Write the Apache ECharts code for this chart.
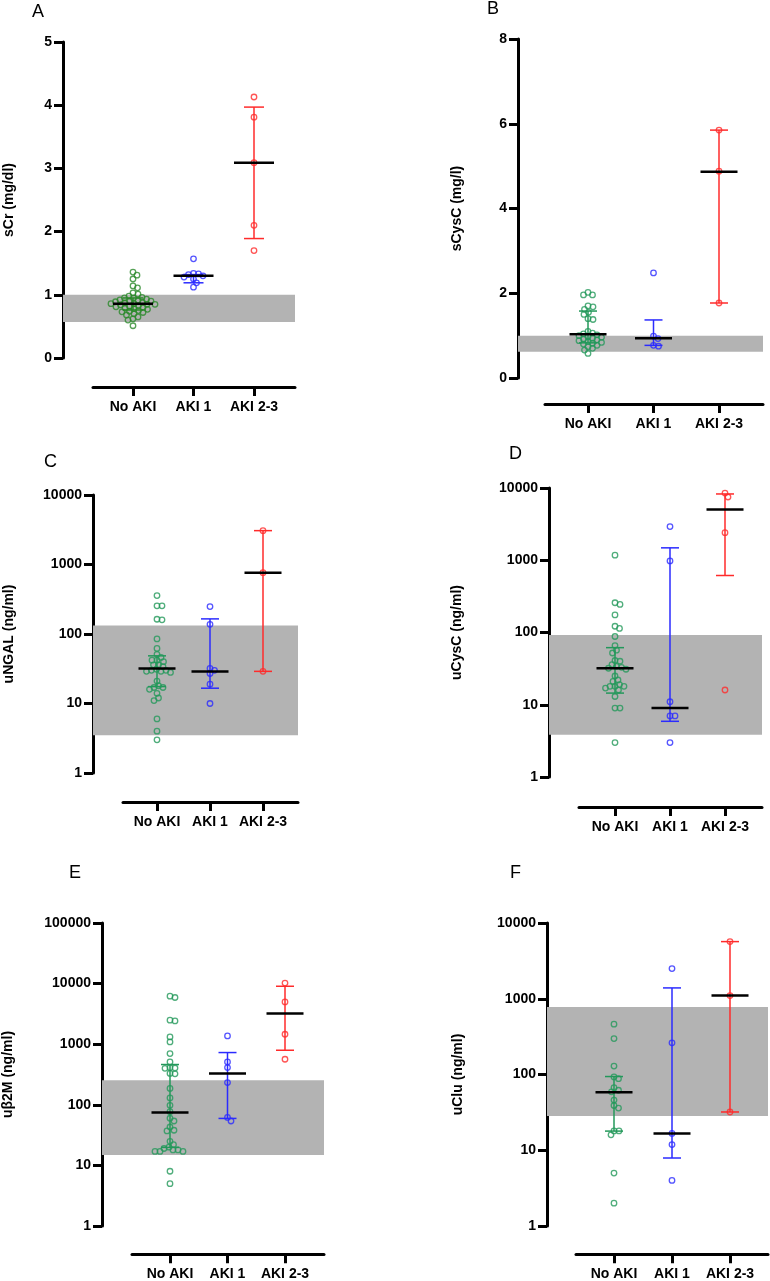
<!DOCTYPE html>
<html>
<head>
<meta charset="utf-8">
<title>AKI biomarkers</title>
<script src="https://cdn.jsdelivr.net/npm/echarts@6/dist/echarts.min.js"></script>
<style>
  body { margin: 0; background: #fff; }
  #main { width: 770px; height: 1281px; }
</style>
</head>
<body>
<div id="main"></div>
<script>
// ---- data ----
var categories = ['No AKI', 'AKI 1', 'AKI 2-3'];
var panelLetters = ['A', 'B', 'C', 'D', 'E', 'F'];
var axisTitles = ['sCr (mg/dl)', 'sCysC (mg/l)', 'uNGAL (ng/ml)', 'uCysC (ng/ml)', 'u\u03b22M (ng/ml)', 'uClu (ng/ml)'];

// A  sCr
var sCrNoAki = [1.36, 1.31, 1.25, 1.14, 1.11, 1.03, 1.01, 0.98, 0.96, 0.95, 0.95, 0.93, 0.92, 0.91, 0.90, 0.90, 0.89, 0.88, 0.87, 0.86, 0.86, 0.85, 0.85, 0.84, 0.83, 0.82, 0.81, 0.80, 0.79, 0.78, 0.77, 0.75, 0.74, 0.73, 0.72, 0.70, 0.68, 0.65, 0.62, 0.60, 0.51];
var sCrAki1 = [1.57, 1.34, 1.33, 1.32, 1.30, 1.28, 1.25, 1.19, 1.12];
var sCrAki23 = [4.13, 3.81, 3.09, 2.10, 1.70];
var sCrMedian = [0.86, 1.30, 3.09];
var sCrLow = [0.76, 1.19, 1.89];
var sCrHigh = [0.95, 1.32, 3.97];
var sCrRef = [0.57, 1.0];

// B  sCysC
var sCysNoAki = [2.02, 1.96, 1.96, 1.70, 1.68, 1.62, 1.55, 1.50, 1.40, 1.38, 1.10, 1.06, 1.04, 1.02, 1.00, 0.98, 0.96, 0.94, 0.92, 0.90, 0.88, 0.86, 0.84, 0.82, 0.80, 0.77, 0.74, 0.70, 0.66, 0.58];
var sCysAki1 = [2.48, 0.99, 0.93, 0.77, 0.75];
var sCysAki23 = [5.85, 4.88, 1.77];
var sCysMedian = [1.03, 0.94, 4.87];
var sCysLow = [0.83, 0.77, 1.77];
var sCysHigh = [1.58, 1.37, 5.85];
var sCysRef = [0.62, 1.0];

// C  uNGAL
var uNgalNoAki = [357, 254, 254, 163, 160, 85, 62, 51, 46, 42, 42, 40, 36, 36, 34, 31, 30, 30, 29, 29, 28, 21, 18, 17, 17, 16, 14, 12, 11, 6, 4, 3];
var uNgalAki1 = [248, 138, 32, 30, 27, 19, 10];
var uNgalAki23 = [3070, 764, 29];
var uNgalMedian = [31.9, 28.9, 764];
var uNgalLow = [17.5, 16.6, 29];
var uNgalHigh = [48.5, 165, 3070];
var uNgalRef = [3.5, 132];

// D  uCysC
var uCysNoAki = [1175, 258, 245, 175, 122, 114, 88, 66, 57, 52, 41, 40, 36, 34, 33, 32, 31, 25, 22, 21, 19, 18, 18, 18, 17, 16, 13, 9, 9, 3];
var uCysAki1 = [2925, 980, 11, 7, 7, 3];
var uCysAki23 = [8520, 7510, 2410, 16];
var uCysMedian = [32, 9, 5030];
var uCysLow = [14.5, 5.9, 615];
var uCysHigh = [61.7, 1485, 8270];
var uCysRef = [3.84, 92];

// E  ub2M
var uB2mNoAki = [6200, 5900, 2490, 2420, 1320, 1090, 700, 510, 410, 405, 400, 330, 325, 186, 130, 98, 77, 60, 54, 43, 38, 37, 25, 22, 20, 19, 18, 18, 17, 17, 17, 8, 5];
var uB2mAki1 = [1372, 510, 412, 233, 62, 54];
var uB2mAki23 = [10200, 4980, 1460, 565];
var uB2mMedian = [74.8, 328, 3200];
var uB2mLow = [19.8, 59.6, 795];
var uB2mHigh = [462, 728, 9040];
var uB2mRef = [14.8, 255];

// F  uClu
var uCluNoAki = [461, 298, 129, 93, 88, 67, 62, 59, 46, 39, 36, 18, 18, 16, 5, 2];
var uCluAki1 = [2500, 262, 16.7, 11.9, 4];
var uCluAki23 = [5680, 1100, 32];
var uCluMedian = [58.5, 16.7, 1100];
var uCluLow = [17.9, 7.9, 32];
var uCluHigh = [94, 1390, 5680];
var uCluRef = [28.3, 780];

// y axis ranges
var yMins = [0, 0, 1, 1, 1, 1];
var yMaxs = [5, 8, 10000, 10000, 100000, 10000];
var yIntervals = [1, 2, null, null, null, null];

// ---- layout ----
var panels = [
  { groups: [sCrNoAki, sCrAki1, sCrAki23], med: sCrMedian, lo: sCrLow, hi: sCrHigh, ref: sCrRef,
    left: 63, top: 42, bottom: 358, right: 295, xLineLeft: 93, xAxisY: 387, cat0: 133, gap: 60.5, log: false,
    green: '#2b892b', titleX: 9, letter: [32, 3] },
  { groups: [sCysNoAki, sCysAki1, sCysAki23], med: sCysMedian, lo: sCysLow, hi: sCysHigh, ref: sCysRef,
    left: 518, top: 39, bottom: 378, right: 763, xLineLeft: 545, xAxisY: 404, cat0: 588, gap: 65.5, log: false,
    green: '#23985a', titleX: 457, letter: [487, 0] },
  { groups: [uNgalNoAki, uNgalAki1, uNgalAki23], med: uNgalMedian, lo: uNgalLow, hi: uNgalHigh, ref: uNgalRef,
    left: 93, top: 495, bottom: 773, right: 298, xLineLeft: 123, xAxisY: 802, cat0: 157, gap: 53, log: true,
    green: '#23985a', titleX: 9, letter: [44, 453] },
  { groups: [uCysNoAki, uCysAki1, uCysAki23], med: uCysMedian, lo: uCysLow, hi: uCysHigh, ref: uCysRef,
    left: 549, top: 488, bottom: 777, right: 762, xLineLeft: 579, xAxisY: 807, cat0: 615, gap: 55, log: true,
    green: '#23985a', titleX: 457, letter: [509, 445] },
  { groups: [uB2mNoAki, uB2mAki1, uB2mAki23], med: uB2mMedian, lo: uB2mLow, hi: uB2mHigh, ref: uB2mRef,
    left: 102, top: 923, bottom: 1226, right: 324, xLineLeft: 132, xAxisY: 1255, cat0: 170, gap: 57.5, log: true,
    green: '#23985a', titleX: 8, letter: [69, 864] },
  { groups: [uCluNoAki, uCluAki1, uCluAki23], med: uCluMedian, lo: uCluLow, hi: uCluHigh, ref: uCluRef,
    left: 547, top: 923, bottom: 1226, right: 768, xLineLeft: 576, xAxisY: 1255, cat0: 614, gap: 58, log: true,
    green: '#23985a', titleX: 458, letter: [510, 864] }
];
var BLUE = '#2b2bff', RED = '#ff2b2b';
var FONT = 'Liberation Sans, Arial, sans-serif';

var chart = echarts.init(document.getElementById('main'));

var grids = [], xAxes = [], yAxes = [], series = [], titles = [];

panels.forEach(function (p, i) {
  var colors = [p.green, BLUE, RED];
  var dataGrid = 2 * i, axisGrid = 2 * i + 1;
  grids.push({ left: p.left, top: p.top, width: p.right - p.left, height: p.bottom - p.top });
  grids.push({ left: p.xLineLeft, top: p.xAxisY - 1, width: p.right - p.xLineLeft, height: 1 });

  xAxes.push({ gridIndex: dataGrid, type: 'value', show: false,
    min: (p.left - p.cat0) / p.gap, max: (p.right - p.cat0) / p.gap });
  xAxes.push({ gridIndex: axisGrid, type: 'value',
    min: (p.xLineLeft - p.cat0) / p.gap, max: (p.right - p.cat0) / p.gap,
    axisLine: { show: true, onZero: false, lineStyle: { color: '#000', width: 3 } },
    axisTick: { show: true, length: 9, customValues: [0, 1, 2], lineStyle: { color: '#000', width: 3 } },
    axisLabel: { show: true, customValues: [0, 1, 2], margin: 13, color: '#000', fontFamily: FONT,
      fontSize: 14, fontWeight: 'bold', formatter: function (v) { return categories[Math.round(v)]; } },
    splitLine: { show: false } });

  var nameGap = p.left - p.titleX - 7;
  var ya = { gridIndex: dataGrid, type: p.log ? 'log' : 'value', min: yMins[i], max: yMaxs[i],
    axisLine: { show: true, onZero: false, lineStyle: { color: '#000', width: 3 } },
    axisTick: { show: true, length: 9, lineStyle: { color: '#000', width: 3 } },
    axisLabel: { color: '#000', fontFamily: FONT, fontSize: 14, fontWeight: 'bold', margin: 11,
      formatter: function (v) { return String(Math.round(v * 100) / 100); } },
    splitLine: { show: false },
    name: axisTitles[i], nameLocation: 'middle', nameGap: nameGap,
    nameTextStyle: { color: '#000', fontFamily: FONT, fontSize: 14, fontWeight: 'bold' } };
  if (p.log) ya.logBase = 10;
  if (yIntervals[i]) ya.interval = yIntervals[i];
  yAxes.push(ya);
  yAxes.push({ gridIndex: axisGrid, type: 'value', show: false });

  p.groups.forEach(function (vals, g) {
    var s = {
      id: 'p' + i + 'g' + g, type: 'scatter', xAxisIndex: dataGrid, yAxisIndex: dataGrid,
      symbol: 'circle', symbolSize: 5.5, z: 3, silent: true, animation: false,
      itemStyle: { color: 'rgba(255,255,255,0)', borderColor: colors[g], borderWidth: 1.3 },
      data: vals.map(function (v) { return [g, v]; })
    };
    if (g === 0) {
      s.markArea = { silent: true, z: 1, itemStyle: { color: '#b3b3b3' },
        data: [[{ yAxis: p.ref[0] }, { yAxis: p.ref[1] }]] };
    }
    series.push(s);
  });

  var medHalf = i === 0 ? 20 : 18.5, capHalf = i === 0 ? 10 : 9;
  series.push({
    type: 'custom', xAxisIndex: dataGrid, yAxisIndex: dataGrid, z: 5, silent: true, animation: false,
    data: [0, 1, 2].map(function (g) { return [g, p.lo[g], p.hi[g], p.med[g]]; }),
    renderItem: function (params, api) {
      var x = api.value(0);
      var pl = api.coord([x, api.value(1)]);
      var ph = api.coord([x, api.value(2)]);
      var pm = api.coord([x, api.value(3)]);
      var col = colors[Math.round(x)];
      var st = { stroke: col, lineWidth: 1.5 };
      return { type: 'group', children: [
        { type: 'line', shape: { x1: pl[0], y1: pl[1], x2: ph[0], y2: ph[1] }, style: st },
        { type: 'line', shape: { x1: pl[0] - capHalf, y1: pl[1], x2: pl[0] + capHalf, y2: pl[1] }, style: st },
        { type: 'line', shape: { x1: ph[0] - capHalf, y1: ph[1], x2: ph[0] + capHalf, y2: ph[1] }, style: st },
        { type: 'line', shape: { x1: pm[0] - medHalf, y1: pm[1], x2: pm[0] + medHalf, y2: pm[1] },
          style: { stroke: '#000', lineWidth: 2.5 } }
      ] };
    }
  });

  titles.push({ text: panelLetters[i], left: p.letter[0], top: p.letter[1], padding: 0,
    textStyle: { color: '#000', fontFamily: FONT, fontSize: 18, fontWeight: 'normal' } });
});

chart.setOption({
  animation: false,
  backgroundColor: '#fff',
  title: titles,
  grid: grids,
  xAxis: xAxes,
  yAxis: yAxes,
  series: series
});

// spread the points sideways (beeswarm) using pixel positions from the axes
function swarm(ys, d) {
  var order = ys.map(function (y, k) { return k; }).sort(function (a, b) { return ys[a] - ys[b]; });
  var placed = [], out = [];
  order.forEach(function (k) {
    var y = ys[k];
    for (var s = 0; s < 400; s++) {
      var off = (s % 2 ? 1 : -1) * Math.ceil(s / 2) * 0.5;
      var ok = placed.every(function (q) {
        return (q[0] - off) * (q[0] - off) + (q[1] - y) * (q[1] - y) >= d * d;
      });
      if (ok) { out[k] = off; placed.push([off, y]); break; }
    }
  });
  return out;
}

var updates = [];
panels.forEach(function (p, i) {
  p.groups.forEach(function (vals, g) {
    var ys = vals.map(function (v) { return chart.convertToPixel({ gridIndex: 2 * i }, [g, v])[1]; });
    var dx = swarm(ys, 4.8);
    updates.push({ id: 'p' + i + 'g' + g,
      data: vals.map(function (v, k) { return [g + dx[k] / p.gap, v]; }) });
  });
});
chart.setOption({ series: updates });
</script>
</body>
</html>
